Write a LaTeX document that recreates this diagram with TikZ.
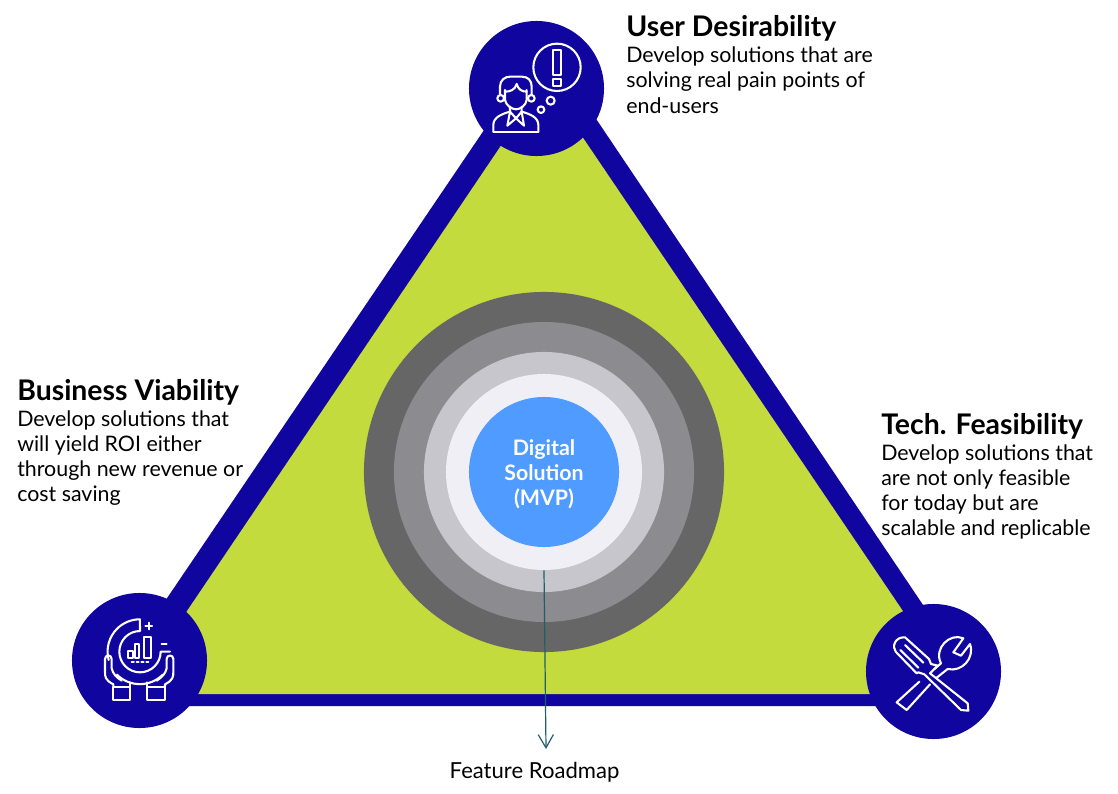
\documentclass[tikz,border=0pt]{standalone}
\usepackage{fontspec}
\setmainfont{Lato}
\usetikzlibrary{arrows.meta,positioning}
\definecolor{navy}{HTML}{10069F}
\definecolor{lime}{HTML}{C4DB3E}
\definecolor{teal}{HTML}{1F5F68}
\tikzset{
  disc/.style={circle,inner sep=0pt,draw=none},
  headtext/.style={anchor=base west,inner sep=0pt,font=\fontsize{20.2}{24}\selectfont\bfseries},
  bodytext/.style={anchor=north west,inner sep=0pt,align=left,font=\fontsize{15.2}{18}\selectfont},
  zoomed/.style={x=0.008333cm,y=-0.008333cm},
  icon/.style={draw=white,line width=0.052cm,line join=round,line cap=round}
}
\begin{document}
\begin{tikzpicture}[x=0.025cm,y=-0.025cm]
\useasboundingbox (0,0) rectangle (1118,794);
% triangle
\fill[navy] (544,41.5) -- (991,706) -- (94,706) -- cycle;
\fill[lime] (544.6,81) -- (959,694) -- (131,694) -- cycle;
% corners
\node (user) [disc,fill=navy,minimum size=3.375cm] at (536.5,88.5) {};
\node (business) [disc,fill=navy,minimum size=3.375cm] at (139.5,660.5) {};
\node (tech) [disc,fill=navy,minimum size=3.375cm] at (933.5,671.5) {};
% rings
\node (ring1) [disc,fill=black!60,minimum size=9cm] at (544,472) {};
\node (ring2) [disc,fill={rgb,255:red,139;green,139;blue,144},minimum size=7.5cm] at (544,472) {};
\node (ring3) [disc,fill={rgb,255:red,198;green,198;blue,204},minimum size=6cm] at (544,472) {};
\node (ring4) [disc,fill={rgb,255:red,239;green,239;blue,245},minimum size=4.9cm] at (544,472) {};
\node (mvp) [disc,fill={rgb,255:red,79;green,155;blue,255},minimum size=3.75cm] at (544,472) {};
\node (mvplabel) [inner sep=0pt,text=white,align=center,font=\fontsize{15.2}{17.9}\selectfont\bfseries] at (544,474) {Digital\\Solution\\(MVP)};
%
\coordinate (roadmapend) at (546,749);
\draw[teal,line width=0.03cm,-{Straight Barb[length=0.33cm,width=0.38cm,line width=0.03cm]}] (ring4.south) -- (roadmapend);
\node (roadmap) [anchor=base,inner sep=0pt,font=\fontsize{15.7}{18}\selectfont] at (534.5,778) {Feature Roadmap};
%
\node (userhead) [headtext] at (626,37) {User Desirability};
\node (usertext) [bodytext] at (626,46.5) {Develop solutions that are\\solving real pain points of\\end-users};
\node (businesshead) [headtext] at (17,400) {Business Viability};
\node (businesstext) [bodytext] at (17,410) {Develop solutions that\\will yield ROI either\\through new revenue or\\cost saving};
\node (techhead) [headtext] at (881,434) {Tech. Feasibility};
\node (techtext) [bodytext] at (881,444) {Develop solutions that\\are not only feasible\\for today but are\\scalable and replicable};
% user icon
\begin{scope}[shift={(460,10)},zoomed,icon]
\draw (291,172) circle (71);
\draw (280,120) rectangle (302,195);
\draw (280,208) rectangle (302,228);
\draw (272,272) circle (12);
\draw (243,299) circle (10);
\draw (120,255) -- (120,230) .. controls (120,210) and (135,200) .. (150,200) -- (185,200) .. controls (205,200) and (215,212) .. (215,230) -- (215,255);
\draw (135,240) -- (135,270) .. controls (137,285) and (155,298) .. (168,298) .. controls (182,298) and (198,285) .. (200,270) -- (200,240);
\draw (135,245) .. controls (150,245) and (165,240) .. (170,222) .. controls (175,238) and (185,245) .. (200,245);
\draw (122,265) circle (10);
\draw (214,265) circle (10);
\draw (100,365) -- (100,345) .. controls (100,322) and (125,312) .. (150,305) -- (150,290);
\draw (235,365) -- (235,345) .. controls (235,322) and (210,312) .. (185,305) -- (185,290);
\draw (100,365) -- (235,365);
\draw (150,305) -- (142,347) -- (168,325) -- (192,347) -- (185,305) -- (168,325) -- cycle;
\end{scope}
% business icon
\begin{scope}[shift={(60,585)},zoomed,icon]
\draw (146,225) arc (-195:-90:97) -- (240,138) arc (270:90:62) arc (90:0:62) -- (330,200);
\draw (171,269) arc (135:45:97);
\draw (205,197) rectangle (218,220);
\draw (224,178) rectangle (237,220);
\draw (252,155) rectangle (272,220);
\draw[dotted] (215,232) -- (268,232);
\draw (266,113) -- (266,133) (256,123) -- (276,123);
\draw (305,177) -- (320,177);
\draw (160,305) rectangle (210,345);
\draw (262,305) rectangle (315,345);
\draw (160,305) -- (160,298) .. controls (135,285) and (135,275) .. (135,260) -- (135,222) .. controls (135,208) and (155,208) .. (155,222) -- (155,250) .. controls (158,265) and (170,278) .. (185,287);
\draw (210,305) -- (210,292);
\draw (315,305) -- (315,298) .. controls (340,285) and (340,275) .. (340,260) -- (340,222) .. controls (340,208) and (320,208) .. (320,222) -- (320,250) .. controls (317,265) and (305,278) .. (290,287);
\draw (262,305) -- (262,292);
\end{scope}
% tech icon
\begin{scope}[shift={(855,595)},zoomed,icon]
\draw (122,170) .. controls (110,155) and (120,125) .. (150,127) -- (222,192) -- (228,207) -- (248,212) -- (225,235) -- (338,325) -- (340,347) -- (318,345) -- (208,238) -- (190,232) -- (185,235) -- cycle;
\draw (150,150) -- (205,203);
\draw (136,165) -- (190,218);
\draw (193,260) -- (125,322) -- (155,345) -- (225,268);
\draw (245,248) -- (278,222) .. controls (320,232) and (360,190) .. (345,147) -- (318,182) -- (295,172) -- (325,130) .. controls (285,112) and (235,160) .. (258,205) -- (238,222);
\end{scope}
\end{tikzpicture}
\end{document}
